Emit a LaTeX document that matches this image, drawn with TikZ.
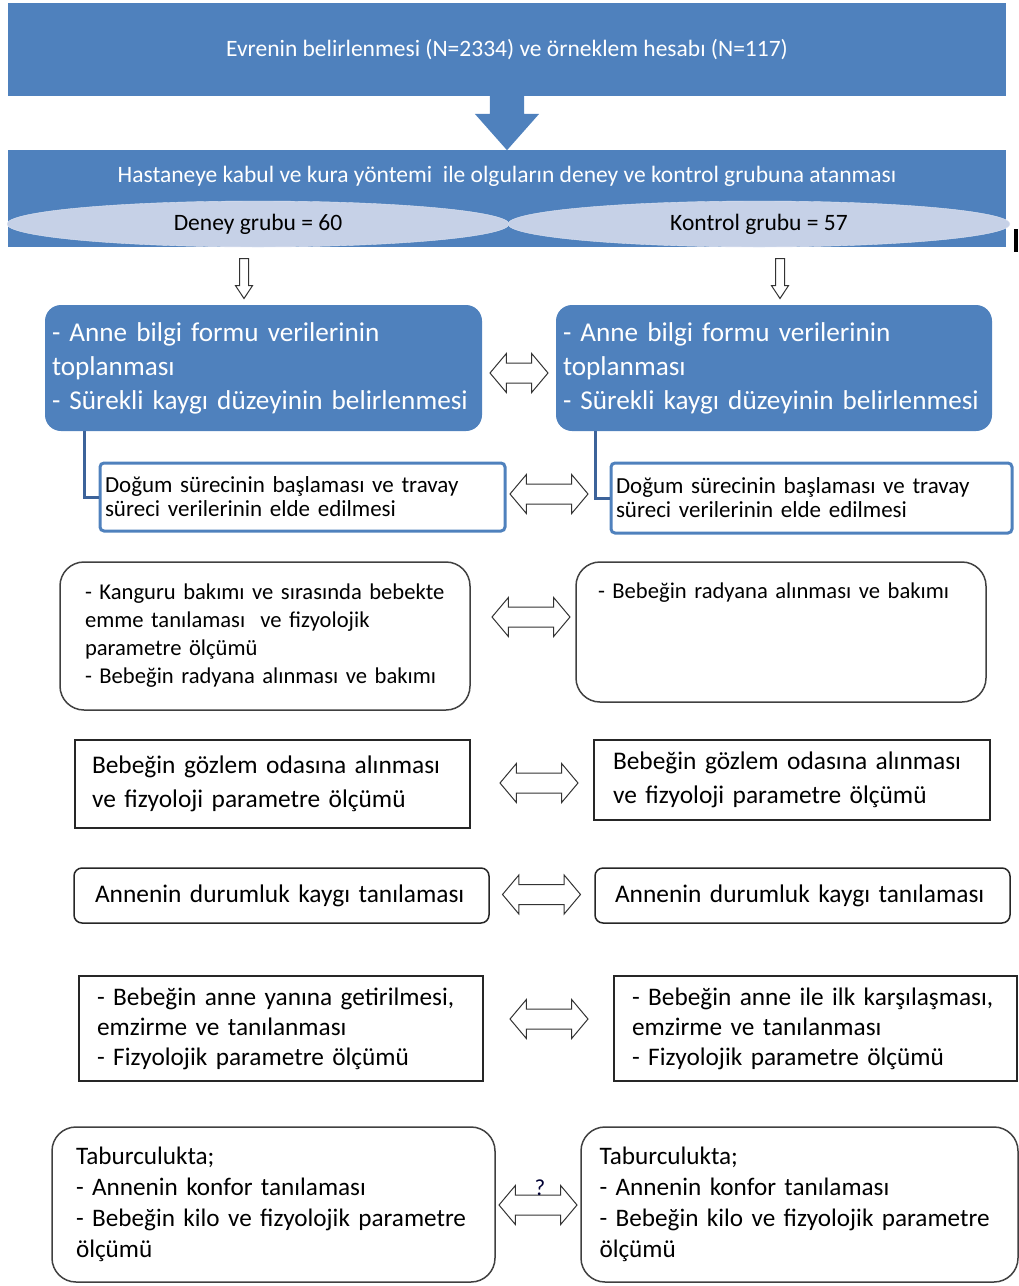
\documentclass[tikz,border=0pt]{standalone}
\usepackage{fontspec}
\setmainfont{Carlito}
\usetikzlibrary{shapes.arrows,shapes.geometric}
\definecolor{offblue}{HTML}{4F81BD}
\definecolor{linkblue}{HTML}{3C639A}
\definecolor{grpfill}{HTML}{C6D1E7}

\begin{document}
\begin{tikzpicture}[x=1pt,y=-1pt]
\tikzstyle{hdr}=[rectangle,fill=offblue,text=white,minimum width=998,inner sep=0,font=\fontsize{23.5}{27}\selectfont]
\tikzstyle{hdrtxt}=[text=white,inner sep=0,font=\fontsize{23.5}{27}\selectfont]
\tikzstyle{grp}=[ellipse,fill=grpfill,draw=grpfill!60!white,minimum width=502,minimum height=46,inner sep=0,font=\fontsize{23.5}{27}\selectfont]
\tikzstyle{bigarr}=[single arrow,fill=offblue,shape border rotate=270,minimum height=56,single arrow head extend=15,single arrow tip angle=83,inner xsep=17,inner ysep=0]
\tikzstyle{down}=[single arrow,draw=black!80,fill=white,line width=1,shape border rotate=270,minimum height=40,single arrow head extend=4,single arrow tip angle=67,inner xsep=4,inner ysep=0]
\tikzstyle{bbox}=[rectangle,rounded corners=16,fill=offblue,text=white,align=left,inner xsep=7,font=\fontsize{27.2}{34}\selectfont]
\tikzstyle{wbox}=[rectangle,rounded corners=4,draw=offblue,line width=3,fill=white,align=left,inner xsep=5,font=\fontsize{23}{24}\selectfont]
\tikzstyle{rbox}=[rectangle,rounded corners=24,draw=black!75,line width=1.5,align=left,font=\fontsize{22.6}{28}\selectfont]
\tikzstyle{sbox}=[rectangle,draw=black!85,line width=1.5,align=left,font=\fontsize{25.4}{34}\selectfont]
\tikzstyle{dbl}=[double arrow,draw=black!80,fill=white,line width=1,minimum height=78,double arrow head extend=9.5,double arrow tip angle=100,inner xsep=0,inner ysep=9.5]
\tikzstyle{link}=[draw=linkblue,line width=3]

\useasboundingbox (0,0) rectangle (1019,1286);

% sampling and group assignment
\node[hdr,minimum height=93] (pop) at (507,49.5) {Evrenin belirlenmesi (N=2334) ve örneklem hesabı (N=117)};
\node[bigarr,anchor=tail] (parr) at (507,94) {};
\node[hdr,minimum height=97] (asg) at (507,198.5) {};
\node[hdrtxt] (asgt) at (507,176) {Hastaneye kabul ve kura yöntemi\ \ ile olguların deney ve kontrol grubuna atanması};
\node[grp] (dg) at (258,224) {Deney grubu = 60};
\node[grp] (kg) at (759,224) {Kontrol grubu = 57};
\fill[black] (1014,229) rectangle (1018,252);

\node[down,anchor=tail] (da) at (244,258) {};
\node[down,anchor=tail] (ka) at (780,258) {};

% mother information
\node[bbox,minimum width=437,minimum height=126,text width=423] (ab1) at (263.5,368) {- Anne bilgi formu verilerinin\\toplanması\\- Sürekli kaygı düzeyinin belirlenmesi};
\node[bbox,minimum width=436,minimum height=126,text width=422] (ab2) at (774,368) {- Anne bilgi formu verilerinin\\toplanması\\- Sürekli kaygı düzeyinin belirlenmesi};
\node[dbl,minimum height=58] (d1) at (519,373) {};

% labour
\node[wbox,minimum width=405,minimum height=68,text width=395] (wb1) at (302.5,497) {Doğum sürecinin başlaması ve travay\\süreci verilerinin elde edilmesi};
\node[wbox,minimum width=401,minimum height=70,text width=391] (wb2) at (811.5,498) {Doğum sürecinin başlaması ve travay\\süreci verilerinin elde edilmesi};
\node[dbl] (d2) at (549,494) {};
\draw[link] ([xshift=40]ab1.south west) |- (wb1.west);
\draw[link] ([xshift=40]ab2.south west) |- (wb2.west);

% after birth
\node[rbox,minimum width=410,minimum height=148,inner xsep=25,text width=360] (kb1) at (265,636) {- Kanguru bakımı ve sırasında bebekte\\emme tanılaması\ \ ve fizyolojik\\parametre ölçümü\\- Bebeğin radyana alınması ve bakımı};
\node[rbox,minimum width=410,inner ysep=0,inner xsep=22,text width=366,text height=36,text depth=104] (kb2) at (781,632) {- Bebeğin radyana alınması ve bakımı};
\node[dbl] (d3) at (531,617) {};

% observation room
\node[sbox,minimum width=395,minimum height=88,inner xsep=17,text width=361] (gb1) at (272.5,784) {Bebeğin gözlem odasına alınması\\ve fizyoloji parametre ölçümü};
\node[sbox,minimum width=396,minimum height=80,inner xsep=19,text width=358] (gb2) at (792,780) {Bebeğin gözlem odasına alınması\\ve fizyoloji parametre ölçümü};
\node[dbl] (d4) at (539,783) {};

% state anxiety
\node[sbox,rounded corners=8,minimum width=415,minimum height=55,inner xsep=21,text width=373] (ak1) at (281.5,895.5) {Annenin durumluk kaygı tanılaması};
\node[sbox,rounded corners=8,minimum width=415,minimum height=55,inner xsep=20,text width=375] (ak2) at (802.5,895.5) {Annenin durumluk kaygı tanılaması};
\node[dbl] (d5) at (541.5,894.5) {};

% meeting the mother
\node[sbox,minimum width=404,minimum height=105,inner xsep=18,text width=368,font=\fontsize{25.3}{30}\selectfont] (eb1) at (281,1028.5) {- Bebeğin anne yanına getirilmesi,\\emzirme ve tanılanması\\- Fizyolojik parametre ölçümü};
\node[sbox,minimum width=403,minimum height=105,inner xsep=18,text width=367,font=\fontsize{25.3}{30}\selectfont] (eb2) at (815.5,1028.5) {- Bebeğin anne ile ilk karşılaşması,\\emzirme ve tanılanması\\- Fizyolojik parametre ölçümü};
\node[dbl] (d6) at (549,1019) {};

% discharge
\node[rbox,minimum width=443,minimum height=155,inner xsep=24,text width=395,font=\fontsize{25.2}{31}\selectfont] (tb1) at (273.5,1204.5) {Taburculukta;\\- Annenin konfor tanılaması\\- Bebeğin kilo ve fizyolojik parametre\\ölçümü};
\node[rbox,minimum width=437,minimum height=155,inner xsep=18.5,text width=400,font=\fontsize{25.2}{31}\selectfont] (tb2) at (799.5,1204.5) {Taburculukta;\\- Annenin konfor tanılaması\\- Bebeğin kilo ve fizyolojik parametre\\ölçümü};
\node[dbl] (d7) at (538,1205) {};
\node[inner sep=0,text=black!80!blue,font=\fontsize{23}{26}\selectfont] (q) at (540,1188) {?};

\end{tikzpicture}
\end{document}
